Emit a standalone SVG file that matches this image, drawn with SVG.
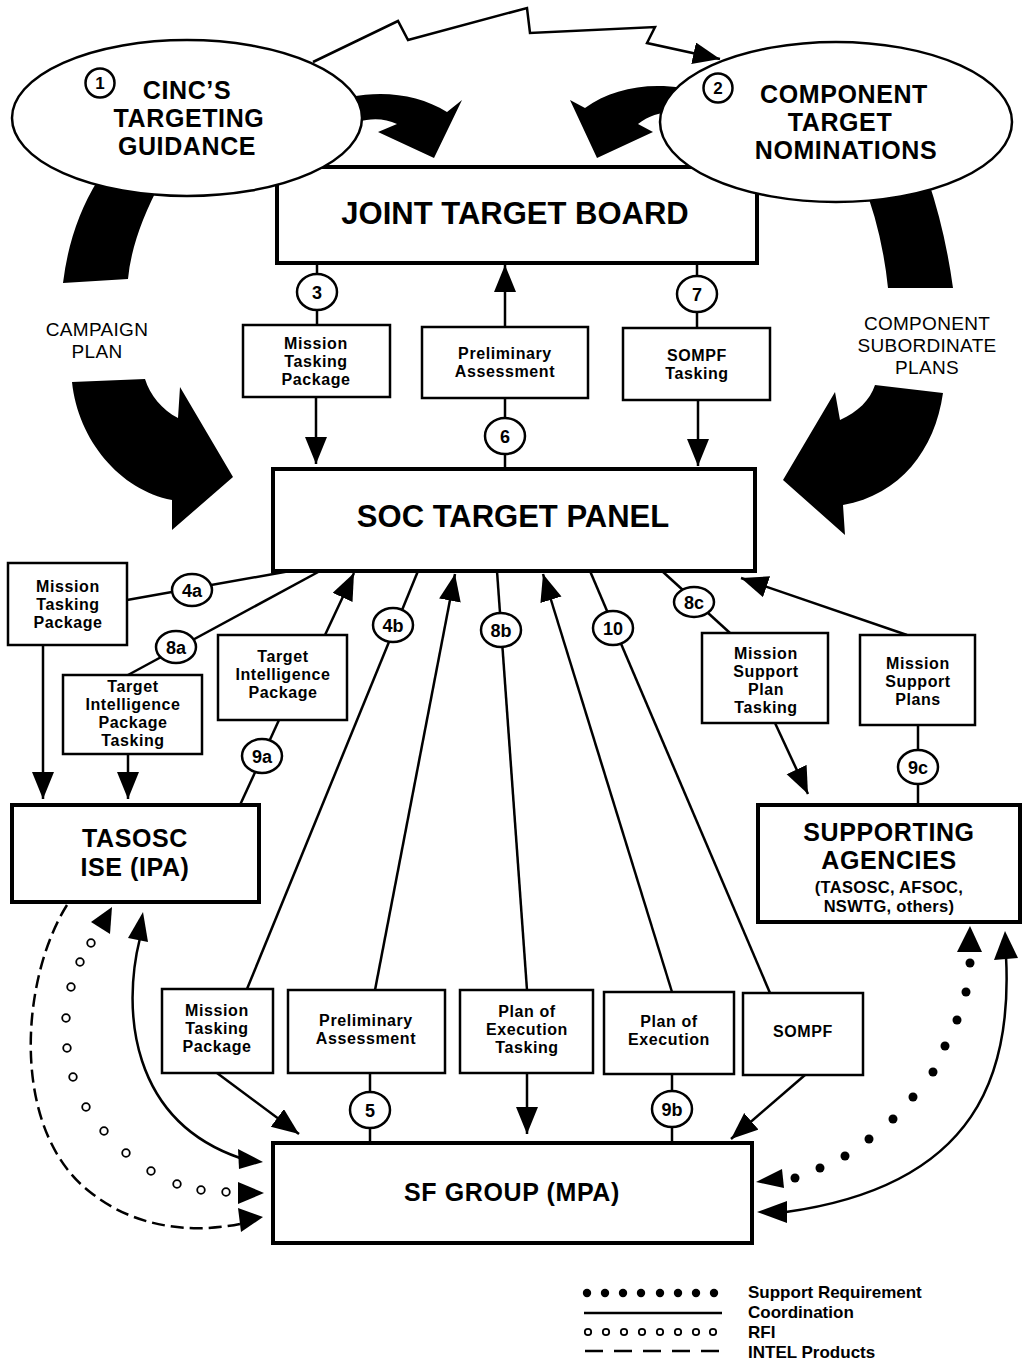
<svg xmlns="http://www.w3.org/2000/svg" width="1022" height="1369" viewBox="0 0 1022 1369">
<style>
text{font-family:"Liberation Sans",Arial,sans-serif;text-anchor:middle;fill:#000}
.b{font-weight:bold}
.s{font-size:16px;font-weight:bold;letter-spacing:0.6px}
.n{font-size:18px;font-weight:bold}
.big{font-size:31px;font-weight:bold}
.mid{font-size:25px;font-weight:bold;letter-spacing:0.6px}
.sm{font-size:16.5px;font-weight:bold;letter-spacing:0.3px}
.lg{font-size:17px;font-weight:bold;text-anchor:start}
.pl{font-size:19px;letter-spacing:0.3px}
.box{fill:#fff;stroke:#000;stroke-width:2.5}
.bx{fill:#fff;stroke:#000;stroke-width:4}
.ell{fill:#fff;stroke:#000;stroke-width:2.5}
.ln{fill:none;stroke:#000;stroke-width:2.5}
.a{marker-end:url(#ah)}
.num ellipse{fill:#fff;stroke:#000;stroke-width:2.5}
.rfi{fill:#fff;stroke:#000;stroke-width:1.8}
.dot{fill:#000}
.blk{fill:#000}
</style>
<defs>
<marker id="ah" markerUnits="userSpaceOnUse" markerWidth="30" markerHeight="24" refX="27" refY="11" orient="auto"><path d="M0,0 L27,11 L0,22 z"/></marker>
</defs>
<rect width="1022" height="1369" fill="#fff"/>

<g id="big-arrows">
<path class="blk" d="M98,180 Q70,225 63,283 L128,279 Q132,235 162,180 Z"/>
<path class="blk" d="M72,382 L145,379 C150,395 162,410 178,418 L180,387 L233,477 L172,530 L172,500 C120,490 78,440 72,382 Z"/>
<path class="blk" d="M862,180 Q882,230 888,288 L953,288 Q945,230 928,180 Z"/>
<path class="blk" d="M875,385 L943,393 C935,450 900,495 843,505 L845,535 L783,480 L835,392 L840,420 C858,412 870,400 875,385 Z"/>
<path class="blk" d="M350,97 C385,90 420,95 447,112 L462,100 L434,158 L378,132 L397,124 C385,118 370,118 358,122 Z"/>
<path class="blk" d="M682,88 C645,82 610,90 585,108 L570,100 L597,158 L653,132 L638,124 C648,116 660,112 674,112 Z"/>
<text class="pl"><tspan x="97" y="336">CAMPAIGN</tspan><tspan x="97" y="358">PLAN</tspan></text>
<text class="pl"><tspan x="927" y="330">COMPONENT</tspan><tspan x="927" y="352">SUBORDINATE</tspan><tspan x="927" y="374">PLANS</tspan></text>
</g>

<g id="jtb"><rect class="bx" x="277" y="167" width="480" height="96"/><text class="big" x="515" y="224">JOINT TARGET BOARD</text></g>

<g id="connectors">
<polyline class="ln" points="313,62 398,21 408,40 527,8 530,33 655,27 647,43 720,59" marker-end="url(#ah)"/>
<line class="ln" x1="317" y1="263" x2="317" y2="325"/>
<line class="ln a" x1="316" y1="397" x2="316" y2="464"/>
<line class="ln a" x1="505" y1="327" x2="505" y2="265"/>
<line class="ln" x1="505" y1="398" x2="505" y2="469"/>
<line class="ln" x1="697" y1="263" x2="697" y2="328"/>
<line class="ln a" x1="698" y1="400" x2="698" y2="466"/>
<line class="ln" x1="127" y1="600" x2="290" y2="571"/>
<line class="ln a" x1="43" y1="645" x2="43" y2="799"/>
<line class="ln" x1="320" y1="571" x2="128" y2="675"/>
<line class="ln a" x1="128" y1="754" x2="128" y2="799"/>
<line class="ln a" x1="325" y1="635" x2="354" y2="573"/>
<line class="ln" x1="279" y1="720" x2="240" y2="805"/>
<line class="ln" x1="418" y1="571" x2="247" y2="989"/>
<line class="ln a" x1="375" y1="990" x2="455" y2="574"/>
<line class="ln" x1="497" y1="571" x2="527" y2="990"/>
<line class="ln a" x1="672" y1="992" x2="543" y2="574"/>
<line class="ln" x1="590" y1="571" x2="770" y2="993"/>
<line class="ln" x1="662" y1="571" x2="730" y2="633"/>
<line class="ln a" x1="775" y1="723" x2="808" y2="794"/>
<line class="ln a" x1="907" y1="635" x2="741" y2="578"/>
<line class="ln" x1="918" y1="725" x2="918" y2="805"/>
<line class="ln a" x1="217" y1="1073" x2="299" y2="1134"/>
<line class="ln" x1="370" y1="1073" x2="370" y2="1143"/>
<line class="ln a" x1="527" y1="1073" x2="527" y2="1134"/>
<line class="ln" x1="672" y1="1074" x2="672" y2="1143"/>
<line class="ln a" x1="805" y1="1075" x2="731" y2="1139"/>
<path class="ln" d="M140,938 C122,1010 130,1120 240,1158"/>
<polygon points="143,912 128,938 148,942"/>
<polygon points="263,1162 238,1149 239,1169"/>
<path class="ln" stroke-dasharray="13 6" d="M67,905 C20,980 10,1130 90,1192 C140,1232 200,1232 240,1224"/>
<polygon points="263,1217 238,1208 241,1232"/>
<polygon points="112,907 91,922 110,934"/>
<g class="rfi">
<circle cx="91" cy="943" r="3.8"/><circle cx="80" cy="962" r="3.8"/><circle cx="71" cy="987" r="3.8"/><circle cx="66" cy="1018" r="3.8"/><circle cx="67" cy="1048" r="3.8"/><circle cx="73" cy="1077" r="3.8"/><circle cx="86" cy="1107" r="3.8"/><circle cx="104" cy="1131" r="3.8"/><circle cx="126" cy="1153" r="3.8"/><circle cx="151" cy="1171" r="3.8"/><circle cx="177" cy="1184" r="3.8"/><circle cx="201" cy="1190" r="3.8"/><circle cx="226" cy="1192" r="3.8"/>
</g>
<polygon points="264,1193 238,1182 238,1204"/>
<polygon points="970,926 957,952 982,952"/>
<g class="dot">
<circle cx="970" cy="963" r="4.5"/><circle cx="966" cy="992" r="4.5"/><circle cx="957" cy="1020" r="4.5"/><circle cx="945" cy="1046" r="4.5"/><circle cx="933" cy="1072" r="4.5"/><circle cx="913" cy="1097" r="4.5"/><circle cx="893" cy="1119" r="4.5"/><circle cx="869" cy="1139" r="4.5"/><circle cx="845" cy="1156" r="4.5"/><circle cx="820" cy="1168" r="4.5"/><circle cx="795" cy="1178" r="4.5"/>
</g>
<polygon points="756,1182 782,1169 784,1188"/>
<path class="ln" d="M1006,956 C1012,1070 980,1185 786,1212"/>
<polygon points="1005,931 994,960 1018,958"/>
<polygon points="757,1212 787,1201 787,1223"/>
</g>

<g id="ellipse1"><ellipse class="ell" cx="187" cy="118" rx="175" ry="78"/>
<ellipse class="ell" cx="100" cy="83" rx="14.5" ry="14.5"/><text class="b" font-size="17" x="100" y="89">1</text>
<text class="mid"><tspan x="187" y="99">CINC’S</tspan><tspan x="189" y="127">TARGETING</tspan><tspan x="187" y="155">GUIDANCE</tspan></text></g>
<g id="ellipse2"><ellipse class="ell" cx="836" cy="122" rx="176" ry="80"/>
<ellipse class="ell" cx="718" cy="88" rx="14.5" ry="14.5"/><text class="b" font-size="17" x="718" y="94">2</text>
<text class="mid"><tspan x="844" y="103">COMPONENT</tspan><tspan x="840" y="131">TARGET</tspan><tspan x="846" y="159">NOMINATIONS</tspan></text></g>

<g id="soc"><rect class="bx" x="273" y="469" width="482" height="102"/><text class="big" x="513" y="527">SOC TARGET PANEL</text></g>
<g id="tasosc"><rect class="bx" x="12" y="805" width="247" height="97"/><text class="mid"><tspan x="135" y="847">TASOSC</tspan><tspan x="135" y="876">ISE (IPA)</tspan></text></g>
<g id="supporting"><rect class="bx" x="758" y="805" width="262" height="117"/><text class="mid"><tspan x="889" y="841">SUPPORTING</tspan><tspan x="889" y="869">AGENCIES</tspan></text><text class="sm"><tspan x="889" y="893">(TASOSC, AFSOC,</tspan><tspan x="889" y="912">NSWTG, others)</tspan></text></g>
<g id="sfgroup"><rect class="bx" x="273" y="1143" width="479" height="100"/><text class="mid" x="512" y="1201" font-size="27">SF GROUP (MPA)</text></g>

<g id="mtp-top"><rect class="box" x="243" y="325" width="147" height="72"/><text class="s"><tspan x="316" y="349">Mission</tspan><tspan x="316" y="367">Tasking</tspan><tspan x="316" y="385">Package</tspan></text></g>
<g id="pa-top"><rect class="box" x="422" y="327" width="166" height="71"/><text class="s"><tspan x="505" y="359">Preliminary</tspan><tspan x="505" y="377">Assessment</tspan></text></g>
<g id="sompf-top"><rect class="box" x="623" y="328" width="147" height="72"/><text class="s"><tspan x="697" y="361">SOMPF</tspan><tspan x="697" y="379">Tasking</tspan></text></g>
<g id="mtp-left"><rect class="box" x="8" y="563" width="119" height="82"/><text class="s"><tspan x="68" y="592">Mission</tspan><tspan x="68" y="610">Tasking</tspan><tspan x="68" y="628">Package</tspan></text></g>
<g id="tipt"><rect class="box" x="63" y="675" width="139" height="79"/><text class="s"><tspan x="133" y="692">Target</tspan><tspan x="133" y="710">Intelligence</tspan><tspan x="133" y="728">Package</tspan><tspan x="133" y="746">Tasking</tspan></text></g>
<g id="tip"><rect class="box" x="218" y="635" width="129" height="85"/><text class="s"><tspan x="283" y="662">Target</tspan><tspan x="283" y="680">Intelligence</tspan><tspan x="283" y="698">Package</tspan></text></g>
<g id="mspt"><rect class="box" x="702" y="633" width="126" height="90"/><text class="s"><tspan x="766" y="659">Mission</tspan><tspan x="766" y="677">Support</tspan><tspan x="766" y="695">Plan</tspan><tspan x="766" y="713">Tasking</tspan></text></g>
<g id="msp"><rect class="box" x="860" y="635" width="115" height="90"/><text class="s"><tspan x="918" y="669">Mission</tspan><tspan x="918" y="687">Support</tspan><tspan x="918" y="705">Plans</tspan></text></g>
<g id="mtp-bottom"><rect class="box" x="162" y="989" width="111" height="84"/><text class="s"><tspan x="217" y="1016">Mission</tspan><tspan x="217" y="1034">Tasking</tspan><tspan x="217" y="1052">Package</tspan></text></g>
<g id="pa-bottom"><rect class="box" x="288" y="990" width="157" height="83"/><text class="s"><tspan x="366" y="1026">Preliminary</tspan><tspan x="366" y="1044">Assessment</tspan></text></g>
<g id="poet"><rect class="box" x="460" y="990" width="133" height="83"/><text class="s"><tspan x="527" y="1017">Plan of</tspan><tspan x="527" y="1035">Execution</tspan><tspan x="527" y="1053">Tasking</tspan></text></g>
<g id="poe"><rect class="box" x="604" y="992" width="130" height="82"/><text class="s"><tspan x="669" y="1027">Plan of</tspan><tspan x="669" y="1045">Execution</tspan></text></g>
<g id="sompf-bottom"><rect class="box" x="743" y="993" width="120" height="82"/><text class="s" x="803" y="1037">SOMPF</text></g>

<g id="numbers" class="num">
<g id="n3"><ellipse cx="317" cy="292" rx="20" ry="18"/><text class="n" x="317" y="299">3</text></g>
<g id="n6"><ellipse cx="505" cy="436" rx="20" ry="18"/><text class="n" x="505" y="443">6</text></g>
<g id="n7"><ellipse cx="697" cy="294" rx="20" ry="18"/><text class="n" x="697" y="301">7</text></g>
<g id="n4a"><ellipse cx="192" cy="590" rx="20" ry="16"/><text class="n" x="192" y="597">4a</text></g>
<g id="n8a"><ellipse cx="176" cy="647" rx="20" ry="16"/><text class="n" x="176" y="654">8a</text></g>
<g id="n9a"><ellipse cx="262" cy="756" rx="20" ry="17"/><text class="n" x="262" y="763">9a</text></g>
<g id="n4b"><ellipse cx="393" cy="625" rx="20" ry="17"/><text class="n" x="393" y="632">4b</text></g>
<g id="n8b"><ellipse cx="501" cy="630" rx="20" ry="17"/><text class="n" x="501" y="637">8b</text></g>
<g id="n10"><ellipse cx="613" cy="628" rx="20" ry="17"/><text class="n" x="613" y="635">10</text></g>
<g id="n8c"><ellipse cx="694" cy="602" rx="20" ry="15"/><text class="n" x="694" y="609">8c</text></g>
<g id="n9c"><ellipse cx="918" cy="767" rx="20" ry="17"/><text class="n" x="918" y="774">9c</text></g>
<g id="n5"><ellipse cx="370" cy="1110" rx="20" ry="18"/><text class="n" x="370" y="1117">5</text></g>
<g id="n9b"><ellipse cx="672" cy="1109" rx="20" ry="18"/><text class="n" x="672" y="1116">9b</text></g>
</g>

<g id="legend">
<g class="dot"><circle cx="587" cy="1293" r="4.2"/><circle cx="605" cy="1293" r="4.2"/><circle cx="623" cy="1293" r="4.2"/><circle cx="641" cy="1293" r="4.2"/><circle cx="660" cy="1293" r="4.2"/><circle cx="678" cy="1293" r="4.2"/><circle cx="696" cy="1293" r="4.2"/><circle cx="714" cy="1293" r="4.2"/></g>
<line class="ln" stroke-width="2" x1="584" y1="1313" x2="722" y2="1313"/>
<g class="rfi" stroke-width="1.5"><circle cx="588" cy="1332" r="3.2"/><circle cx="606" cy="1332" r="3.2"/><circle cx="624" cy="1332" r="3.2"/><circle cx="642" cy="1332" r="3.2"/><circle cx="660" cy="1332" r="3.2"/><circle cx="678" cy="1332" r="3.2"/><circle cx="696" cy="1332" r="3.2"/><circle cx="713" cy="1332" r="3.2"/></g>
<line class="ln" stroke-width="2" stroke-dasharray="18 11" x1="585" y1="1351" x2="722" y2="1351"/>
<text class="lg"><tspan x="748" y="1298">Support Requirement</tspan><tspan x="748" y="1318">Coordination</tspan><tspan x="748" y="1338">RFI</tspan><tspan x="748" y="1358">INTEL Products</tspan></text>
</g>
</svg>
